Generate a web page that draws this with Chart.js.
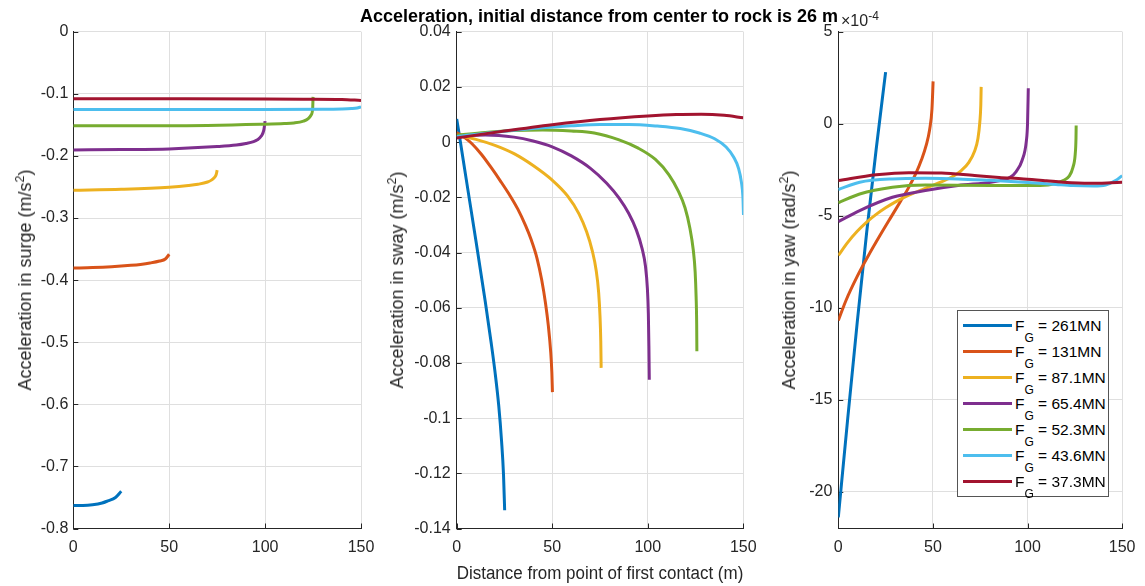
<!DOCTYPE html>
<html>
<head>
<meta charset="utf-8">
<script src="https://cdn.jsdelivr.net/npm/chart.js@4/dist/chart.umd.min.js"></script>
<style>
  html, body { margin: 0; padding: 0; background: #fff; }
  #fig { position: relative; width: 1145px; height: 586px; overflow: hidden;
         font-family: "Liberation Sans", Arial, Helvetica, sans-serif; color: #262626; }
  #fig canvas { position: absolute; top: 0; }
  #title { position: absolute; left: 199px; width: 800px; top: 6px; text-align: center;
           font-weight: bold; font-size: 18px; line-height: 21px; color: #000; white-space: nowrap; }
  #yawExp { position: absolute; left: 841px; top: 11px; font-size: 16px; line-height: 19px;
            color: #262626; white-space: nowrap; }
  #yawExp sup { font-size: 12px; vertical-align: 6px; line-height: 0; }
  .ytitle { position: absolute; top: 280px; transform: translate(-50%, -50%) rotate(-90deg);
            font-size: 18px; line-height: 20px; white-space: nowrap; color: #262626; }
  .ytitle sup { font-size: 12.5px; vertical-align: 7px; line-height: 0; }
  #legend { position: absolute; left: 957px; top: 310px; width: 152px; height: 187px;
            box-sizing: border-box; border: 1px solid #555; background: #fff; }
  .row { position: absolute; left: 0; height: 20px; width: 150px; }
  .swatch { position: absolute; left: 5px; top: 8.5px; width: 49px; height: 3px; }
  .lbl { position: absolute; left: 57px; top: 0; font-size: 15.5px; line-height: 20px; white-space: nowrap; color: #000; }
  .lbl sub { font-size: 12px; vertical-align: -11px; line-height: 0; }
</style>
</head>
<body>
<div id="fig">
  <canvas id="surgeChart" width="400" height="586" style="left:0px"></canvas>
  <canvas id="swayChart" width="400" height="586" style="left:370px"></canvas>
  <canvas id="yawChart" width="395" height="586" style="left:750px"></canvas>
  <div id="title">Acceleration, initial distance from center to rock is 26 m</div>
  <div id="yawExp">×10<sup>-4</sup></div>
  <div class="ytitle" style="left:25px">Acceleration in surge (m/s<sup>2</sup>)</div>
  <div class="ytitle" style="left:397px">Acceleration in sway (m/s<sup>2</sup>)</div>
  <div class="ytitle" style="left:789px">Acceleration in yaw (rad/s<sup>2</sup>)</div>
  <div id="legend"></div>
</div>
<script>
// Grounding force levels, one curve each
const forceLabels = ['261MN', '131MN', '87.1MN', '65.4MN', '52.3MN', '43.6MN', '37.3MN'];
const lineColors = ['#0072BD', '#D95319', '#EDB120', '#7E2F8E', '#77AC30', '#4DBEEE', '#A2142F'];

// Axis ticks
const distanceTicks = [0, 50, 100, 150];
const surgeTicks = [-0.8, -0.7, -0.6, -0.5, -0.4, -0.3, -0.2, -0.1, 0];
const swayTicks = [-0.14, -0.12, -0.1, -0.08, -0.06, -0.04, -0.02, 0, 0.02, 0.04];
const yawTicks = [-20e-4, -15e-4, -10e-4, -5e-4, 0, 5e-4];

// Surge acceleration (m/s^2) against distance from first contact (m)
const surgeDist = [
  [0, 5, 10, 15, 18, 22, 25],
  [0, 10, 20, 30, 35, 40, 45, 48, 50],
  [0, 25, 50, 60, 65, 70, 72, 73.5, 74.5, 75],
  [0, 25, 50, 75, 85, 90, 94, 96, 98, 99.3, 100],
  [0, 50, 100, 110, 115, 120, 122.5, 124, 124.8, 125],
  [0, 50, 100, 130, 140, 145, 148, 150],
  [0, 50, 100, 120, 140, 150]
];
const surgeAcc = [
  [-0.763, -0.7629, -0.7618, -0.759, -0.7555, -0.750, -0.740],
  [-0.3806, -0.3798, -0.3784, -0.3762, -0.3747, -0.3725, -0.3693, -0.3660, -0.3585],
  [-0.2553, -0.2537, -0.2505, -0.2478, -0.2457, -0.2420, -0.2390, -0.2350, -0.2300, -0.2230],
  [-0.1903, -0.1898, -0.1887, -0.1850, -0.1825, -0.1800, -0.1770, -0.1740, -0.1680, -0.1590, -0.1440],
  [-0.1516, -0.1516, -0.1490, -0.1480, -0.1470, -0.1440, -0.1400, -0.1340, -0.1240, -0.1050],
  [-0.1252, -0.1252, -0.1252, -0.1250, -0.1245, -0.1238, -0.1228, -0.1210],
  [-0.1081, -0.1081, -0.1083, -0.1086, -0.1092, -0.1107]
];

// Sway acceleration (m/s^2)
const swayDist = [
  [0, 2, 5, 10, 15, 18, 20, 22, 23.5, 24.5, 25.1],
  [0, 4, 8, 13, 18, 23, 28, 32, 36, 39, 42, 44.5, 46.5, 48, 49.2, 49.8, 50.1],
  [0, 10, 20, 30, 40, 50, 58, 64, 68, 71, 73, 74.3, 75, 75.4, 75.6],
  [0, 15, 30, 40, 50, 60, 70, 78.5, 85, 90, 94, 97, 98.8, 99.8, 100.3, 100.6, 100.8],
  [0, 15, 30, 45, 60, 72, 85, 95, 104, 111, 116, 119.5, 122, 123.8, 124.8, 125.3, 125.6, 125.7],
  [0, 20, 40, 60, 75, 90, 105, 117, 127, 135, 141, 145, 147.5, 149, 149.8, 150.1],
  [0, 25, 50, 75, 100, 115, 128, 140, 150]
];
const swayAcc = [
  [0.0084, -0.0002, -0.0135, -0.0355, -0.0580, -0.0725, -0.0830, -0.0955, -0.1085, -0.1205, -0.1334],
  [0.0035, 0.0017, -0.0006, -0.0045, -0.0092, -0.0142, -0.0195, -0.0243, -0.0302, -0.0354, -0.0420, -0.0500, -0.0585, -0.0668, -0.0760, -0.0835, -0.0906],
  [0.0025, 0.0010, -0.0012, -0.0042, -0.0085, -0.0138, -0.0195, -0.0260, -0.0325, -0.0395, -0.0465, -0.0545, -0.0630, -0.0720, -0.0818],
  [0.0022, 0.0026, 0.0018, 0.0004, -0.0017, -0.0050, -0.0095, -0.0149, -0.0203, -0.0258, -0.0318, -0.0385, -0.0450, -0.0530, -0.0620, -0.0740, -0.0861],
  [0.0025, 0.0035, 0.0042, 0.0044, 0.0040, 0.0033, 0.0008, -0.0022, -0.0063, -0.0118, -0.0178, -0.0238, -0.0310, -0.0390, -0.0470, -0.0560, -0.0660, -0.0758],
  [0.0020, 0.0036, 0.0049, 0.0059, 0.0064, 0.0064, 0.0058, 0.0049, 0.0033, 0.0012, -0.0018, -0.0055, -0.0095, -0.0145, -0.0200, -0.0264],
  [0.0015, 0.0040, 0.0063, 0.0082, 0.0095, 0.0100, 0.0101, 0.0097, 0.0088]
];

// Yaw acceleration (rad/s^2)
const yawDist = [
  [0, 5, 10, 15, 20, 25],
  [0, 4, 10, 16, 22, 28, 33, 37, 41, 44, 46.5, 48.3, 49.5, 50.1],
  [0, 5, 10, 15, 20, 25, 30, 37, 45, 53, 60, 65, 69, 72, 73.8, 74.8, 75.3, 75.5],
  [0, 11.3, 28.6, 46, 63.3, 80.6, 87, 91, 94, 97.1, 99.4, 100, 100.4],
  [0, 11.3, 28.6, 46, 80.6, 106.6, 115, 118.8, 122, 124, 125.2, 125.6, 125.7],
  [0, 11.3, 28.6, 46, 63.3, 80, 98, 115, 124, 135, 141.3, 146.5, 150],
  [0, 20, 37.3, 54.6, 72, 85, 98, 110, 118.8, 132.7, 142, 150]
];
const yawAcc = [
  [-21.4e-4, -16.0e-4, -10.8e-4, -5.9e-4, -1.4e-4, 2.8e-4],
  [-10.7e-4, -9.62e-4, -8.3e-4, -7.15e-4, -6.08e-4, -5.05e-4, -4.2e-4, -3.5e-4, -2.7e-4, -1.95e-4, -1.15e-4, -0.3e-4, 0.8e-4, 2.3e-4],
  [-7.16e-4, -6.45e-4, -5.85e-4, -5.35e-4, -4.93e-4, -4.57e-4, -4.26e-4, -3.9e-4, -3.55e-4, -3.22e-4, -2.9e-4, -2.55e-4, -2.1e-4, -1.5e-4, -0.8e-4, 0.1e-4, 1.0e-4, 2.0e-4],
  [-5.32e-4, -4.72e-4, -4.0e-4, -3.63e-4, -3.36e-4, -3.18e-4, -3.05e-4, -2.9e-4, -2.6e-4, -2.0e-4, -0.92e-4, 0, 1.93e-4],
  [-4.3e-4, -3.82e-4, -3.45e-4, -3.33e-4, -3.36e-4, -3.36e-4, -3.25e-4, -3.09e-4, -2.85e-4, -2.37e-4, -1.65e-4, -0.8e-4, -0.1e-4],
  [-3.58e-4, -3.18e-4, -3.0e-4, -2.97e-4, -3.0e-4, -3.08e-4, -3.18e-4, -3.3e-4, -3.36e-4, -3.38e-4, -3.33e-4, -3.09e-4, -2.82e-4],
  [-3.09e-4, -2.78e-4, -2.66e-4, -2.68e-4, -2.82e-4, -2.92e-4, -3.0e-4, -3.1e-4, -3.18e-4, -3.24e-4, -3.22e-4, -3.18e-4]
];

const INK = '#262626';
const GRID = '#dfdfdf';
Chart.defaults.font.family = '"Liberation Sans", Arial, Helvetica, sans-serif';
Chart.defaults.color = INK;

// Short tick marks pointing into the plot box, as on the axes lines
const innerTicks = {
  id: 'innerTicks',
  beforeDatasetsDraw(chart) {
    const { ctx, chartArea: a, scales: { x, y } } = chart;
    ctx.save();
    ctx.strokeStyle = INK;
    ctx.lineWidth = 1;
    ctx.beginPath();
    x.ticks.forEach(t => {
      const px = Math.round(x.getPixelForValue(t.value)) + 0.5;
      ctx.moveTo(px, a.bottom); ctx.lineTo(px, a.bottom - 5);
    });
    y.ticks.forEach(t => {
      const py = Math.round(y.getPixelForValue(t.value)) + 0.5;
      ctx.moveTo(a.left, py); ctx.lineTo(a.left + 5, py);
    });
    ctx.stroke();
    ctx.restore();
  }
};

function buildDatasets(dist, acc) {
  return forceLabels.map((lab, i) => ({
    label: 'F_G = ' + lab,
    data: dist[i].map((d, j) => ({ x: d, y: acc[i][j] })),
    borderColor: lineColors[i],
    backgroundColor: lineColors[i],
    borderWidth: 3,
    pointRadius: 0,
    fill: false,
    cubicInterpolationMode: 'monotone',
    order: -i
  }));
}

function makePanel(id, cfg) {
  const plotBottom = 528.5;
  const canvasH = 586;
  return new Chart(document.getElementById(id), {
    type: 'line',
    data: { datasets: buildDatasets(cfg.dist, cfg.acc) },
    options: {
      responsive: false,
      devicePixelRatio: 1,
      animation: false,
      events: [],
      layout: { padding: { left: 0, top: 31.7, right: cfg.padRight, bottom: 0 } },
      plugins: { legend: { display: false }, tooltip: { enabled: false }, title: { display: false } },
      scales: {
        x: {
          type: 'linear', position: 'bottom', min: 0, max: 150,
          afterBuildTicks: s => { s.ticks = distanceTicks.map(v => ({ value: v })); },
          afterFit: s => { s.height = canvasH - plotBottom; },
          grid: { color: GRID, lineWidth: 1, drawTicks: false },
          border: { display: true, color: INK, width: 1 },
          ticks: { color: INK, font: { size: 16 }, padding: 9.5, maxRotation: 0, autoSkip: false,
                   callback: v => String(v) },
          title: cfg.xTitle ? { display: true, text: cfg.xTitle, color: INK, font: { size: 18 },
                                padding: { top: 0, bottom: 1.5 } } : { display: false }
        },
        y: {
          type: 'linear', position: 'left', min: cfg.yMin, max: cfg.yMax,
          afterBuildTicks: s => { s.ticks = cfg.yTicks.map(v => ({ value: v })); },
          afterFit: s => { s.width = cfg.axisWidth; },
          grid: { color: GRID, lineWidth: 1, drawTicks: false },
          border: { display: true, color: INK, width: 1 },
          ticks: { color: INK, font: { size: 16 }, padding: cfg.tickPad, autoSkip: false,
                   callback: cfg.fmt },
          title: { display: false }
        }
      }
    },
    plugins: [innerTicks]
  });
}

makePanel('surgeChart', {
  dist: surgeDist, acc: surgeAcc, yMin: -0.8, yMax: 0, yTicks: surgeTicks,
  axisWidth: 73.3, padRight: 39, tickPad: 5,
  fmt: v => String(Number(v.toFixed(1)))
});
makePanel('swayChart', {
  dist: swayDist, acc: swayAcc, yMin: -0.14, yMax: 0.04, yTicks: swayTicks,
  axisWidth: 86.7, padRight: 26.7, tickPad: 6,
  xTitle: 'Distance from point of first contact (m)',
  fmt: v => String(Number(v.toFixed(2)))
});
makePanel('yawChart', {
  dist: yawDist, acc: yawAcc, yMin: -22e-4, yMax: 5e-4, yTicks: yawTicks,
  axisWidth: 88.3, padRight: 18.3, tickPad: 6,
  fmt: v => String(Math.round(v * 1e4))
});

// Legend rows built from the same labels and colours as the curves
const legend = document.getElementById('legend');
forceLabels.forEach((lab, i) => {
  const row = document.createElement('div');
  row.className = 'row';
  row.style.top = (4.7 + 26 * i) + 'px';
  const sw = document.createElement('span');
  sw.className = 'swatch';
  sw.style.background = lineColors[i];
  const txt = document.createElement('span');
  txt.className = 'lbl';
  txt.innerHTML = 'F<sub>G</sub> = ' + lab;
  row.appendChild(sw);
  row.appendChild(txt);
  legend.appendChild(row);
});
</script>
</body>
</html>
